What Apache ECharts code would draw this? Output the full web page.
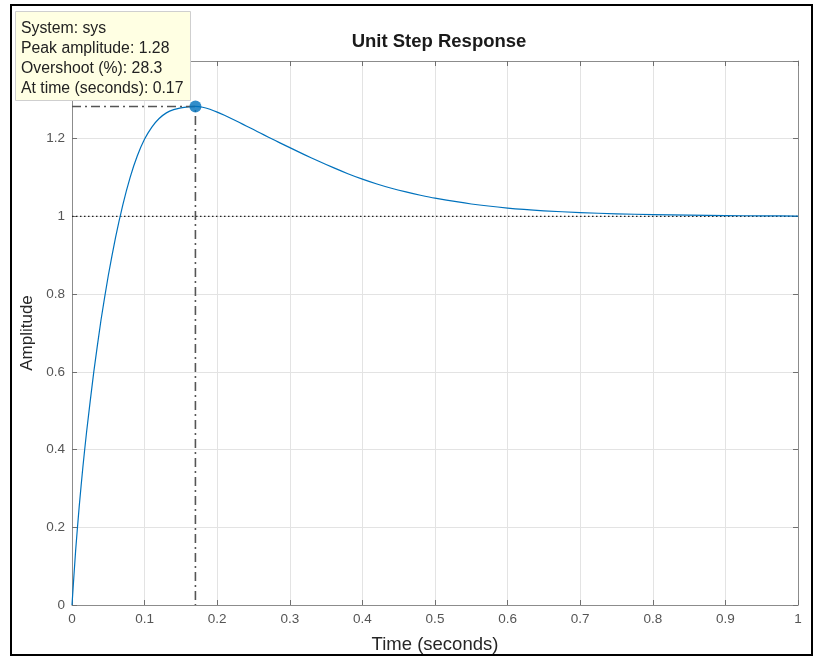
<!DOCTYPE html>
<html>
<head>
<meta charset="utf-8">
<script src="https://cdn.jsdelivr.net/npm/echarts@6/dist/echarts.min.js"></script>
<style>
  html, body { margin: 0; padding: 0; background: #fff; }
  #chart { width: 823px; height: 661px; }
</style>
</head>
<body>
<div id="chart"></div>
<script>
// 阶跃响应曲线 (读自图片)
var timeData = [0, 0.005, 0.01, 0.015, 0.02, 0.03, 0.04, 0.05, 0.06, 0.07, 0.08, 0.09, 0.10, 0.11, 0.12, 0.13, 0.14, 0.15, 0.16, 0.17,
    0.18, 0.19, 0.20, 0.21, 0.22, 0.23, 0.24, 0.25, 0.26, 0.27, 0.28, 0.29, 0.30,
    0.32, 0.34, 0.36, 0.38, 0.40, 0.42, 0.44, 0.46, 0.48, 0.50, 0.55, 0.60, 0.65, 0.70, 0.75, 0.80, 0.85, 0.90, 0.95, 1.0];
var ampData = [0, 0.14, 0.255, 0.355, 0.444, 0.60, 0.734, 0.848, 0.946, 1.03, 1.10, 1.156, 1.199, 1.23, 1.252, 1.2665, 1.275, 1.2795, 1.282, 1.283,
    1.281, 1.2757, 1.2685, 1.2602, 1.2514, 1.2422, 1.2329, 1.2235, 1.214, 1.2046, 1.1952, 1.186, 1.177,
    1.159, 1.142, 1.1255, 1.110, 1.096, 1.0835, 1.0725, 1.063, 1.0545, 1.047, 1.032, 1.0215, 1.0145, 1.0098, 1.0067, 1.0046, 1.0031, 1.0021, 1.0014, 1.001];

// 峰值 + 稳态值
var peakTime = 0.17;
var peakAmp = 1.283;
var finalValue = 1;

var xTicks = [0, 0.1, 0.2, 0.3, 0.4, 0.5, 0.6, 0.7, 0.8, 0.9, 1];
var yTicks = [0, 0.2, 0.4, 0.6, 0.8, 1, 1.2, 1.4];

var tipLines = ['System: sys', 'Peak amplitude: 1.28', 'Overshoot (%): 28.3', 'At time (seconds): 0.17'];

var curve = timeData.map(function (t, i) { return [t, ampData[i]]; });

var stepChart = echarts.init(document.getElementById('chart'));

var axisGray = '#8c8c8c';
var gridGray = '#e3e3e3';
var font = 'Liberation Sans, Arial, sans-serif';

function boxAxis(pos, showLabel, min, max, step) {
    return {
        type: 'value',
        position: pos,
        min: min,
        max: max,
        interval: step,
        axisLine: { show: true, onZero: false, lineStyle: { color: axisGray, width: 1 } },
        axisTick: { show: true, inside: true, length: 5, lineStyle: { color: '#707070' } },
        axisLabel: {
            show: showLabel,
            color: '#555',
            fontSize: 13.5,
            fontFamily: font,
            margin: 7
        },
        splitLine: { show: showLabel, lineStyle: { color: gridGray, width: 1 } }
    };
}

var xBottom = boxAxis('bottom', true, xTicks[0], xTicks[xTicks.length - 1], 0.1);
xBottom.name = 'Time (seconds)';
xBottom.nameLocation = 'middle';
xBottom.nameGap = 30;
xBottom.nameTextStyle = { color: '#262626', fontSize: 18.5, fontFamily: font };

var yLeft = boxAxis('left', true, yTicks[0], yTicks[yTicks.length - 1], 0.2);
yLeft.name = 'Amplitude';
yLeft.nameLocation = 'middle';
yLeft.nameGap = 33;
yLeft.nameTextStyle = { color: '#262626', fontSize: 17, fontFamily: font };

var stepOption = {
    animation: false,
    backgroundColor: '#fff',
    title: {
        text: 'Unit Step Response',
        left: 434,
        textAlign: 'center',
        top: 27,
        textStyle: { fontSize: 18.5, fontWeight: 'bold', color: '#1a1a1a', fontFamily: font }
    },
    grid: { left: 72, right: 25, top: 61, bottom: 56 },
    xAxis: [xBottom, boxAxis('top', false, 0, 1, 0.1)],
    yAxis: [yLeft, boxAxis('right', false, 0, 1.4, 0.2)],
    series: [
        {
            // 稳态值虚线
            type: 'line',
            data: [[xTicks[0], finalValue], [xTicks[xTicks.length - 1], finalValue]],
            symbol: 'none',
            lineStyle: { color: '#222', width: 1.3, type: [1.5, 2.5] },
            z: 2
        },
        {
            type: 'line',
            data: curve,
            symbol: 'none',
            smooth: 0.2,
            lineStyle: { color: '#0072bd', width: 1.2, join: 'round' },
            z: 3
        },
        {
            // 峰值点划线
            type: 'line',
            data: [[0, peakAmp], [peakTime, peakAmp], [peakTime, 0]],
            symbol: 'none',
            lineStyle: { color: '#555', width: 1.6, type: [9, 4, 2, 4] },
            z: 4
        },
        {
            type: 'scatter',
            data: [[peakTime, peakAmp]],
            symbolSize: 12,
            itemStyle: { color: '#0072bd' },
            z: 5
        }
    ],
    graphic: [
        {
            type: 'rect',
            shape: { x: 11, y: 5, width: 801, height: 650 },
            style: { fill: 'none', stroke: '#000', lineWidth: 2 },
            z: 100
        },
        {
            type: 'rect',
            shape: { x: 15.5, y: 11.5, width: 175, height: 89 },
            style: { fill: '#ffffe3', stroke: '#cfcfcf', lineWidth: 1 },
            z: 110
        },
        {
            type: 'text',
            left: 21,
            top: 18.5,
            style: {
                text: tipLines.join('\n'),
                font: '15.8px ' + font,
                lineHeight: 20,
                fill: '#222'
            },
            z: 111
        }
    ]
};

stepChart.setOption(stepOption);
</script>
</body>
</html>
